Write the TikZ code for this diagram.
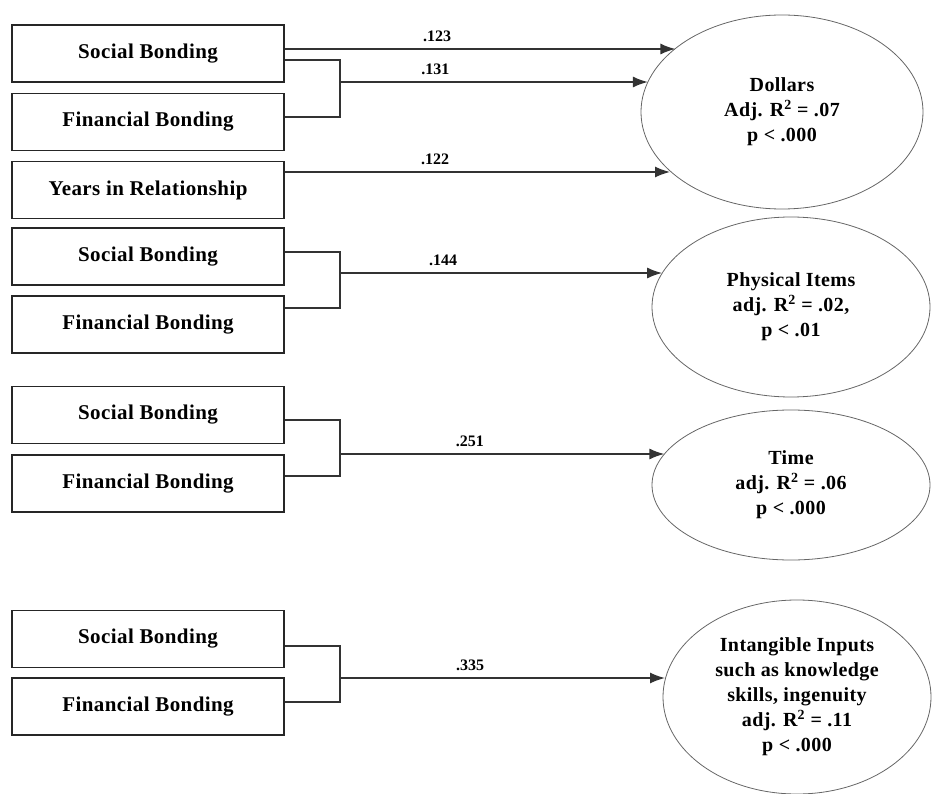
\documentclass[tikz,border=0pt]{standalone}
\usepackage{fontspec}
\setmainfont{Liberation Serif}
\usetikzlibrary{arrows.meta}
\usetikzlibrary{shapes.geometric}

\begin{document}
\begin{tikzpicture}[x=1pt, y=-1pt]
	\tikzset{box/.style={
		rectangle, draw=black!85, line width=1.6pt, minimum width=272pt, minimum height=57pt,
		font=\fontsize{21}{23}\selectfont\bfseries\addfontfeature{LetterSpace=2}
	}}
	\tikzset{outcome/.style={
		ellipse, draw=black!60, line width=0.8pt, inner sep=0pt, align=center,
		font=\fontsize{20}{25}\selectfont\bfseries\addfontfeature{LetterSpace=2}
	}}
	\tikzset{weight/.style={
		font=\fontsize{16}{18}\selectfont\bfseries
	}}
	\tikzset{wire/.style={
		draw=black!80, line width=1.6pt
	}}
	\tikzset{conn/.style={
		wire, -{Latex[length=15pt, width=11pt]}
	}}

	\useasboundingbox (0,0) rectangle (932,794);

	% Dollars
	\node (SB1) [box] at (148,53.5) {Social Bonding}
		coordinate [yshift=4.5pt]  (SB1_a) at (SB1.east) % oben
		coordinate [yshift=-6.5pt] (SB1_b) at (SB1.east) % unten
	;
	\node (FB1) [box] at (148,122) {Financial Bonding}
		coordinate [yshift=5pt] (FB1_a) at (FB1.east)
	;
	\node (YR) [box] at (148,190) {Years in Relationship}
		coordinate [yshift=18pt] (YR_a) at (YR.east)
	;
	\node (Dollars) [outcome, minimum width=282pt, minimum height=194pt] at (782,112)
		{Dollars\\Adj. R\textsuperscript{2} = .07\\p < .000};
	\coordinate (J1) at (340,82);

	% Physical Items
	\node (SB2) [box] at (148,256.5) {Social Bonding}
		coordinate [yshift=4.5pt] (SB2_a) at (SB2.east)
	;
	\node (FB2) [box] at (148,324.5) {Financial Bonding}
		coordinate [yshift=16.5pt] (FB2_a) at (FB2.east)
	;
	\node (Items) [outcome, minimum width=278pt, minimum height=180pt] at (791,307)
		{Physical Items\\adj. R\textsuperscript{2} = .02,\\p < .01};
	\coordinate (J2) at (340,273);

	% Time
	\node (SB3) [box] at (148,415) {Social Bonding}
		coordinate [yshift=-5pt] (SB3_a) at (SB3.east)
	;
	\node (FB3) [box] at (148,483.5) {Financial Bonding}
		coordinate [yshift=7.5pt] (FB3_a) at (FB3.east)
	;
	\node (Time) [outcome, minimum width=278pt, minimum height=150pt] at (791,485)
		{Time\\adj. R\textsuperscript{2} = .06\\p < .000};
	\coordinate (J3) at (340,454);

	% Intangible Inputs
	\node (SB4) [box] at (148,639) {Social Bonding}
		coordinate [yshift=-7pt] (SB4_a) at (SB4.east)
	;
	\node (FB4) [box] at (148,706.5) {Financial Bonding}
		coordinate [yshift=4.5pt] (FB4_a) at (FB4.east)
	;
	\node (Inputs) [outcome, minimum width=268pt, minimum height=194pt] at (797,697)
		{Intangible Inputs\\such as knowledge\\skills, ingenuity\\adj. R\textsuperscript{2} = .11\\p < .000};
	\coordinate (J4) at (340,678);

	% brackets
	\draw[wire] (SB1_b) -| (J1) |- (FB1_a);
	\draw[wire] (SB2_a) -| (J2) |- (FB2_a);
	\draw[wire] (SB3_a) -| (J3) |- (FB3_a);
	\draw[wire] (SB4_a) -| (J4) |- (FB4_a);

	% paths
	\draw[conn] (SB1_a) -- (SB1_a -| Dollars.149.5) node [weight, pos=0.39, above=3pt] {.123};
	\draw[conn] (J1) -- (J1 -| Dollars.167.4) node [weight, pos=0.31, above=3pt] {.131};
	\draw[conn] (YR_a) -- (YR_a -| Dollars.208.4) node [weight, pos=0.39, above=3pt] {.122};
	\draw[conn] (J2) -- (J2 -| Items.165.2) node [weight, pos=0.32, above=3pt] {.144};
	\draw[conn] (J3) -- (J3 -| Time.166) node [weight, pos=0.40, above=3pt] {.251};
	\draw[conn] (J4) -- (J4 -| Inputs.172.6) node [weight, pos=0.40, above=3pt] {.335};
\end{tikzpicture}
\end{document}
